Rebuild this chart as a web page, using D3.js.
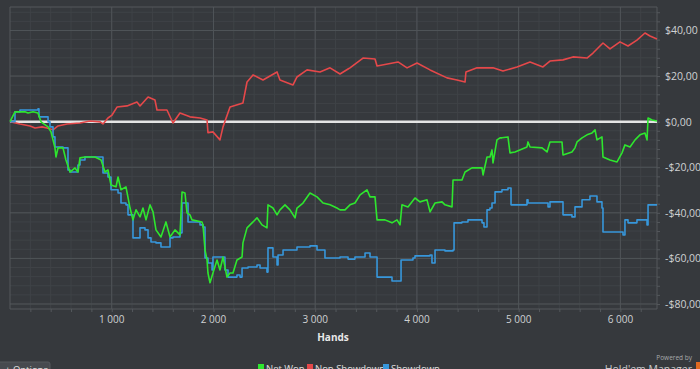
<!DOCTYPE html>
<html>
<head>
<meta charset="utf-8">
<script src="https://cdn.jsdelivr.net/npm/d3@7"></script>
<style>
  html, body { margin: 0; padding: 0; background: #36393d; overflow: hidden; }
  svg { display: block; font-family: 'Open Sans', 'DejaVu Sans', sans-serif; }
</style>
</head>
<body>
<div id="chart"></div>
<script>
// [hands, dollars]
const nonShowdown = [
  [0, 0], [98, -1.0], [197, -1.9], [246, -2.8], [315, -2.3], [364, -2.8], [423, -3.6], [472, -1.9],
  [560, -1.0], [688, -0.6], [786, 0.3], [885, -0.1], [914, -1.0], [963, 1.6], [1003, 2.9], [1052, 6.4],
  [1150, 6.9], [1248, 8.6], [1278, 6.9], [1357, 10.8], [1425, 9.5], [1445, 5.1], [1543, 5.1], [1602, -0.6],
  [1671, 3.8], [1769, 2.1], [1868, 1.6], [1937, 0.7], [1946, -4.8], [1995, -4.5], [2064, -8.0], [2094, -2.3],
  [2163, 6.4], [2290, 8.2], [2330, 17.4], [2389, 20.5], [2487, 18.3], [2625, 21.8], [2654, 18.3], [2782, 16.1],
  [2821, 19.6], [2920, 22.7], [3047, 21.8], [3146, 23.6], [3244, 20.9], [3323, 23.1], [3342, 23.6], [3470, 27.9],
  [3588, 27.5], [3608, 24.4], [3814, 26.2], [3903, 23.6], [4001, 25.7], [4129, 22.7], [4296, 19.2], [4394, 18.3],
  [4473, 17.4], [4482, 21.8], [4591, 23.6], [4748, 23.6], [4846, 22.2], [4984, 24.0], [5112, 26.2], [5239, 24.0],
  [5308, 26.6], [5436, 27.1], [5534, 28.4], [5672, 27.9], [5731, 30.1], [5829, 34.5], [5898, 31.9], [5996, 35.0],
  [6075, 33.2], [6163, 35.8], [6242, 38.9], [6291, 37.6], [6360, 36.3]
];

const netWon = [
  [0, 0], [49, 4.3], [147, 4.3], [177, 3.8], [226, 4.3], [275, 3.8], [305, -0.1], [374, -2.3],
  [403, -4.5], [442, -11.5], [452, -15.5], [472, -11.5], [521, -11.5], [550, -16.8], [590, -22.1], [639, -20.3],
  [668, -22.1], [688, -15.9], [737, -15.5], [836, -15.5], [895, -16.8], [934, -22.1], [963, -21.2], [993, -27.8],
  [1042, -28.6], [1062, -24.3], [1091, -29.9], [1140, -28.6], [1180, -37.9], [1209, -43.1], [1239, -38.7], [1278, -41.8],
  [1307, -37.9], [1337, -43.1], [1376, -36.5], [1406, -39.6], [1435, -47.5], [1484, -50.6], [1533, -44.0], [1573, -50.6],
  [1622, -47.5], [1671, -49.7], [1691, -30.9], [1720, -31.3], [1740, -40.0], [1769, -40.9], [1789, -43.1], [1887, -44.0],
  [1897, -45.3], [1917, -56.3], [1937, -60.7], [1946, -66.4], [1966, -70.7], [1995, -66.4], [2035, -60.7], [2064, -65.1],
  [2094, -59.4], [2133, -68.2], [2163, -66.4], [2192, -66.4], [2231, -60.7], [2281, -59.4], [2290, -53.2], [2330, -46.6],
  [2389, -44.0], [2428, -42.2], [2477, -45.3], [2526, -46.6], [2536, -36.5], [2585, -37.9], [2625, -40.9], [2654, -38.7],
  [2703, -36.5], [2752, -38.7], [2802, -42.2], [2821, -37.9], [2880, -35.7], [2949, -31.3], [3018, -33.0], [3077, -35.7],
  [3146, -36.5], [3214, -37.9], [3244, -38.7], [3293, -38.7], [3342, -36.5], [3391, -35.7], [3441, -32.1], [3509, -29.9],
  [3539, -33.0], [3588, -33.0], [3608, -43.1], [3686, -43.1], [3755, -44.4], [3804, -43.1], [3834, -45.3], [3853, -36.5],
  [3912, -37.4], [3981, -33.5], [4030, -35.2], [4099, -34.3], [4129, -39.6], [4178, -35.7], [4247, -35.2], [4276, -36.5],
  [4345, -37.4], [4355, -25.6], [4443, -25.6], [4473, -22.1], [4541, -20.3], [4640, -20.3], [4650, -23.4], [4689, -15.5],
  [4718, -15.5], [4738, -12.4], [4748, -18.1], [4787, -8.0], [4817, -7.1], [4836, -7.1], [4895, -6.7], [4915, -13.7],
  [4964, -13.3], [5082, -11.1], [5092, -8.9], [5112, -11.1], [5230, -11.5], [5279, -13.3], [5308, -8.9], [5426, -8.9],
  [5436, -14.6], [5524, -13.3], [5554, -11.5], [5574, -8.9], [5623, -7.1], [5672, -5.8], [5721, -5.0], [5751, -3.6],
  [5770, -8.0], [5819, -6.7], [5829, -15.5], [5898, -16.8], [5967, -17.7], [6016, -13.7], [6045, -10.2], [6095, -11.1],
  [6144, -8.0], [6193, -5.8], [6242, -5.0], [6262, -8.0], [6272, 1.6], [6311, 0.7], [6360, 0.3]
];

const showdown = [
  [0, 0], [49, 4.3], [98, 5.1], [275, 5.6], [285, 2.1], [374, -0.1], [393, -2.3], [423, -6.7],
  [442, -11.1], [521, -11.5], [570, -21.2], [590, -22.1], [668, -19.0], [688, -16.8], [737, -15.5], [865, -15.5],
  [914, -22.5], [963, -24.3], [993, -29.9], [1062, -31.3], [1091, -35.7], [1140, -36.5], [1160, -40.9], [1209, -51.0],
  [1258, -51.0], [1278, -46.6], [1327, -47.5], [1357, -51.0], [1386, -52.8], [1435, -53.2], [1484, -55.0], [1533, -55.0],
  [1573, -51.0], [1602, -50.6], [1671, -48.8], [1691, -35.7], [1730, -35.7], [1750, -44.0], [1868, -45.3], [1897, -46.2],
  [1917, -59.8], [1946, -62.0], [1986, -65.1], [1995, -59.4], [2094, -59.4], [2113, -65.1], [2143, -68.2], [2231, -67.3],
  [2261, -68.2], [2281, -64.2], [2340, -63.8], [2428, -62.9], [2458, -64.2], [2507, -64.2], [2526, -66.0], [2536, -55.4],
  [2585, -59.4], [2625, -62.9], [2635, -58.5], [2684, -56.3], [2802, -56.3], [2821, -55.0], [2949, -54.5], [3018, -56.3],
  [3096, -59.8], [3214, -59.8], [3244, -59.4], [3323, -60.3], [3391, -59.4], [3490, -57.6], [3539, -59.4], [3588, -59.4],
  [3608, -68.2], [3735, -68.2], [3755, -69.9], [3834, -69.9], [3844, -60.7], [3961, -59.8], [3981, -58.9], [4129, -58.5],
  [4148, -62.0], [4178, -56.3], [4276, -56.7], [4355, -56.3], [4365, -44.4], [4443, -44.0], [4502, -43.1], [4640, -44.4],
  [4659, -46.2], [4689, -38.7], [4718, -37.9], [4738, -35.7], [4768, -30.8], [4817, -30.8], [4836, -29.9], [4895, -29.1],
  [4925, -36.5], [5062, -36.5], [5082, -34.3], [5092, -35.7], [5259, -35.7], [5289, -37.4], [5308, -35.2], [5426, -35.2],
  [5436, -40.9], [5524, -41.8], [5554, -37.4], [5583, -37.4], [5623, -34.3], [5672, -34.3], [5701, -32.6], [5731, -32.6],
  [5770, -35.2], [5819, -37.9], [5829, -48.4], [5927, -48.4], [6026, -49.7], [6045, -43.1], [6075, -44.4], [6163, -43.1],
  [6222, -43.1], [6262, -45.3], [6272, -36.5], [6360, -36.5]
];

const seriesNames = ['Net Won', 'Non Showdown', 'Showdown'];
const seriesColors = ['#2ee62e', '#e5484a', '#3797db'];
const xTicks = [1000, 2000, 3000, 4000, 5000, 6000];
const yTicks = [-80, -60, -40, -20, 0, 20, 40];

const width = 700, height = 369;
const plot = { left: 10, top: 7, right: 657, bottom: 309 };

const svg = d3.select('#chart').append('svg')
  .attr('width', width)
  .attr('height', height);

svg.append('rect').attr('width', width).attr('height', height).attr('fill', '#36393d');

const x = d3.scaleLinear().domain([0, 6360]).range([plot.left, plot.right]);
const y = d3.scaleLinear().domain([-82.2, 50.3]).range([plot.bottom, plot.top]);

// minor grid
const g = svg.append('g');
g.selectAll('.vminor')
  .data(d3.range(200, 6360, 200))
  .enter().append('line')
  .attr('x1', (d) => x(d)).attr('x2', (d) => x(d))
  .attr('y1', plot.top).attr('y2', plot.bottom)
  .attr('stroke', '#3f4347').attr('stroke-width', 1);
g.selectAll('.hminor')
  .data(d3.range(-80, 50.1, 4))
  .enter().append('line')
  .attr('x1', plot.left).attr('x2', plot.right)
  .attr('y1', (d) => y(d)).attr('y2', (d) => y(d))
  .attr('stroke', '#3f4347').attr('stroke-width', 1);

// major grid
g.selectAll('.vmajor')
  .data(xTicks)
  .enter().append('line')
  .attr('x1', (d) => x(d)).attr('x2', (d) => x(d))
  .attr('y1', plot.top).attr('y2', plot.bottom)
  .attr('stroke', '#505458').attr('stroke-width', 1);
g.selectAll('.hmajor')
  .data(yTicks)
  .enter().append('line')
  .attr('x1', plot.left).attr('x2', plot.right)
  .attr('y1', (d) => y(d)).attr('y2', (d) => y(d))
  .attr('stroke', '#505458').attr('stroke-width', 1);

// frame
svg.append('path')
  .attr('d', `M${plot.left},${plot.bottom}V${plot.top}H${plot.right}V${plot.bottom}Z`)
  .attr('fill', 'none').attr('stroke', '#54585c').attr('stroke-width', 1);

// axes
const fmtHands = (d) => d3.format(',')(d).replace(/,/g, ' ');
const fmtMoney = (d) => (d < 0 ? '-' : '') + '$' + Math.abs(d).toFixed(2).replace('.', ',');

const xAxis = svg.append('g')
  .attr('transform', `translate(0,${plot.bottom})`)
  .call(d3.axisBottom(x).tickValues(d3.range(200, 6360, 200)).tickSize(3).tickFormat(''));
xAxis.select('.domain').remove();
xAxis.selectAll('line').attr('stroke', '#54585c');

svg.append('g').selectAll('text')
  .data(xTicks)
  .enter().append('text')
  .attr('x', (d) => x(d)).attr('y', 323)
  .attr('text-anchor', 'middle')
  .attr('fill', '#cfd1d3').attr('font-size', 10)
  .text(fmtHands);

const yAxis = svg.append('g')
  .attr('transform', `translate(${plot.right},0)`)
  .call(d3.axisRight(y).tickValues(d3.range(-80, 50.1, 4)).tickSize(3).tickFormat(''));
yAxis.select('.domain').remove();
yAxis.selectAll('line').attr('stroke', '#54585c');

svg.append('g').selectAll('text')
  .data(yTicks)
  .enter().append('text')
  .attr('x', 665).attr('y', (d) => y(d) + 4)
  .attr('fill', '#cfd1d3').attr('font-size', 10.5)
  .text(fmtMoney);

svg.append('text')
  .attr('x', 333).attr('y', 341)
  .attr('text-anchor', 'middle')
  .attr('fill', '#e8e8e8').attr('font-size', 10).attr('font-weight', 'bold')
  .text('Hands');

// zero line
svg.append('line')
  .attr('x1', plot.left).attr('x2', plot.right)
  .attr('y1', y(0)).attr('y2', y(0))
  .attr('stroke', '#e4e4e4').attr('stroke-width', 2.5);

// series
const line = d3.line().x((d) => x(d[0])).y((d) => y(d[1]));
const stepLine = d3.line().x((d) => x(d[0])).y((d) => y(d[1])).curve(d3.curveStepAfter);
const allSeries = [netWon, nonShowdown, showdown];
const drawOrder = [1, 2, 0];
drawOrder.forEach((i) => {
  svg.append('path')
    .datum(allSeries[i])
    .attr('d', i === 2 ? stepLine : line)
    .attr('fill', 'none')
    .attr('stroke', seriesColors[i])
    .attr('stroke-width', 1.6)
    .attr('stroke-linejoin', 'round');
});

// legend
const legendX = [258, 307, 383];
const legend = svg.append('g');
seriesNames.forEach((name, i) => {
  legend.append('rect')
    .attr('x', legendX[i]).attr('y', 364)
    .attr('width', 6).attr('height', 6)
    .attr('fill', seriesColors[i]);
  legend.append('text')
    .attr('x', legendX[i] + 8).attr('y', 371.5)
    .attr('fill', '#e0e0e0').attr('font-size', 9.5)
    .text(name);
});

// options button
svg.append('rect')
  .attr('x', -2).attr('y', 362).attr('width', 52).attr('height', 12)
  .attr('rx', 2)
  .attr('fill', '#474a4f').attr('stroke', '#55585d');
svg.append('text')
  .attr('x', 5).attr('y', 373)
  .attr('fill', '#e0e0e0').attr('font-size', 9.5)
  .text('+ Options');

// branding
svg.append('text')
  .attr('x', 692).attr('y', 360)
  .attr('text-anchor', 'end')
  .attr('fill', '#a8aaac').attr('font-size', 6.5)
  .text('Powered by');
svg.append('text')
  .attr('x', 692).attr('y', 372.5)
  .attr('text-anchor', 'end')
  .attr('fill', '#c8cacc').attr('font-size', 10.5)
  .text("Hold'em Manager");
svg.append('rect')
  .attr('x', 696).attr('y', 362).attr('width', 5).attr('height', 10)
  .attr('fill', '#e06a22');
</script>
</body>
</html>
